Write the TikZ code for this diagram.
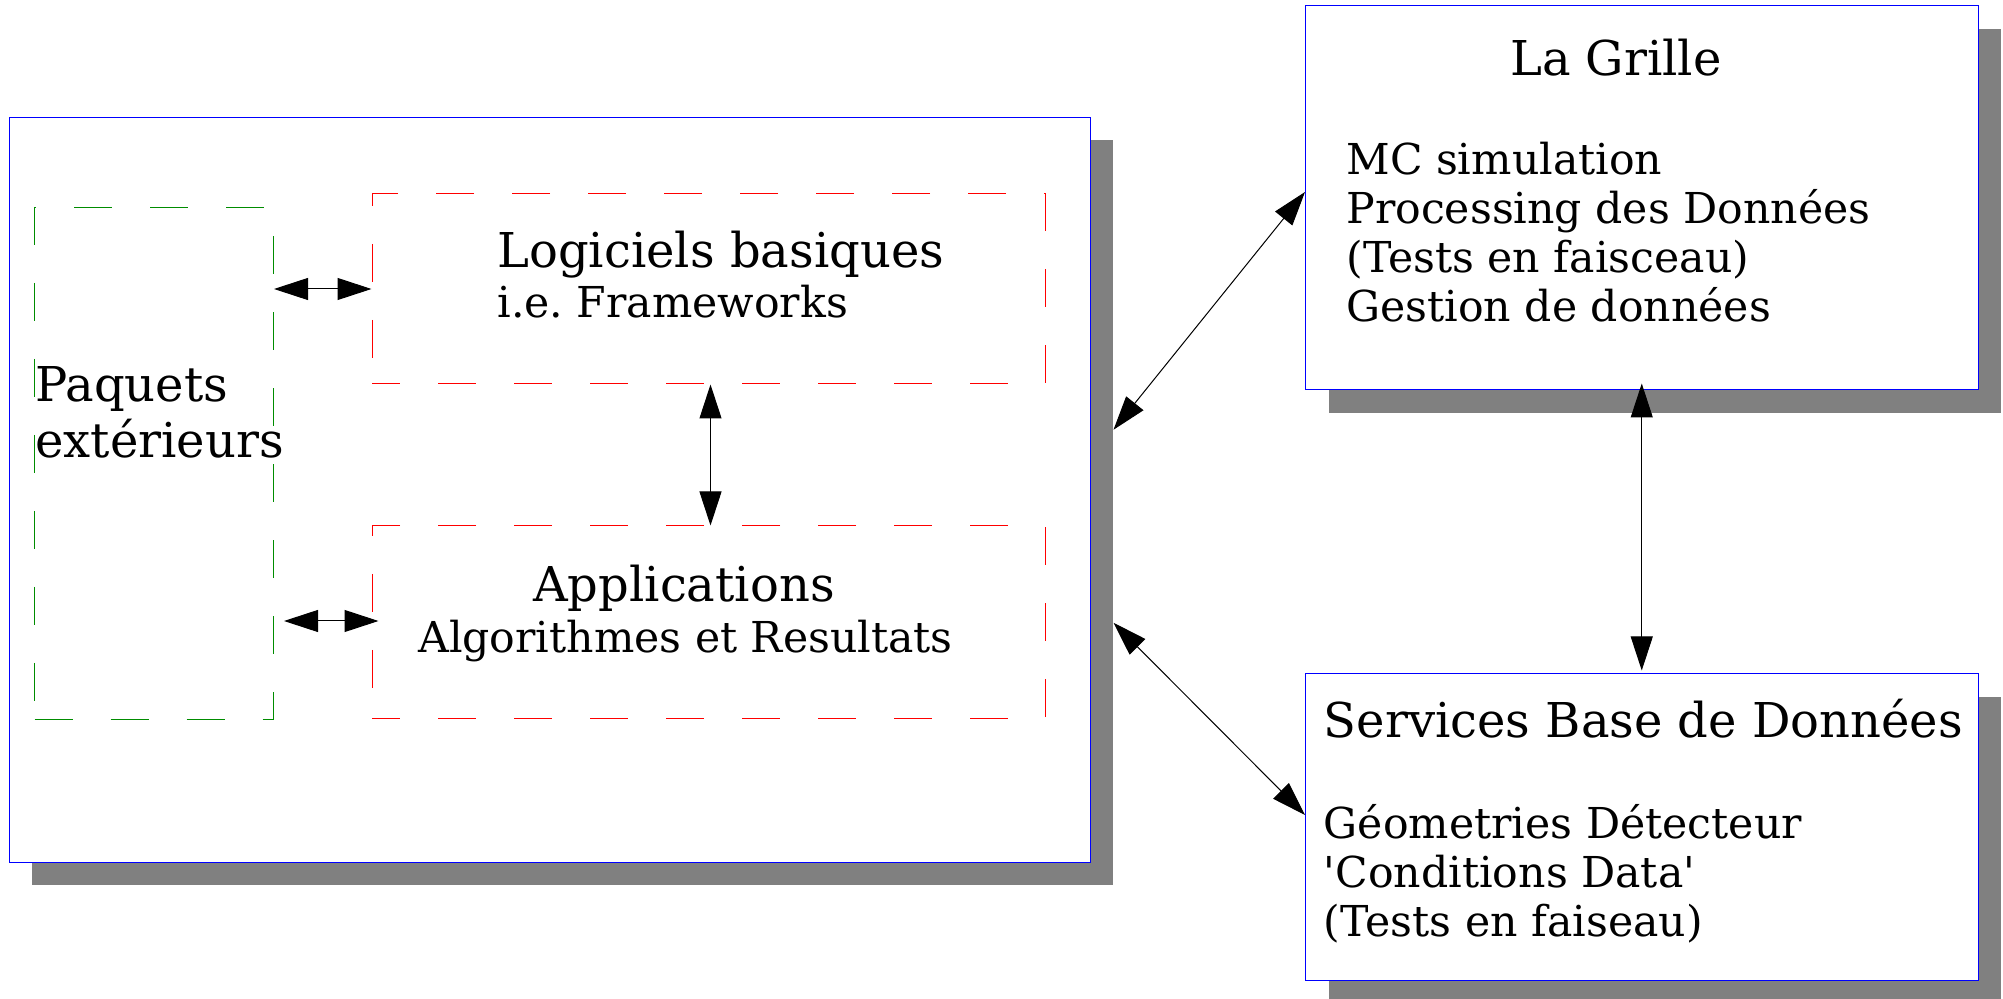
\documentclass[tikz,border=0pt]{standalone}
\usepackage{fontspec}
\setmainfont{DejaVu Serif}[Ligatures=TeXOff]
\usetikzlibrary{arrows.meta,calc,fit,shadows}
\definecolor{shade}{RGB}{128,128,128}
\definecolor{boxblue}{RGB}{0,0,255}
\definecolor{dgreen}{RGB}{0,140,0}
\frenchspacing
\begin{document}
\begin{tikzpicture}[x=0.5pt,y=-0.5pt,
  bigbox/.style={draw=boxblue, line width=0.5pt, fill=white, inner sep=0pt,
    drop shadow={opacity=1, fill=shade, shadow xshift=11.5pt, shadow yshift=-11.5pt}},
  dashbox/.style={line width=0.5pt, inner sep=0pt, dash pattern=on 19pt off 19pt},
  conn/.style={line width=0.5pt, {Triangle[length=17pt,width=11pt]}-{Triangle[length=17pt,width=11pt]}},
  title/.style={inner sep=0pt, font=\fontsize{24}{28}\selectfont},
  body/.style={inner sep=0pt, anchor=base west, font=\fontsize{21.3}{24.5}\selectfont},
]
\useasboundingbox (0,0) rectangle (2003,999);
% boxes
\node[bigbox, fit={(9,117.5) (1090,862)}] (main) {};
\node[bigbox, fit={(1305.5,6) (1978,390)}] (grille) {};
\node[bigbox, fit={(1305.5,674) (1978,980)}] (services) {};
% dashed inner boxes
\node[dashbox, draw=dgreen, dash phase=0pt, fit={(34.5,208) (273.5,719)}] (ext) {};
\node[dashbox, draw=red, dash phase=5pt, fit={(372,194) (1045,384)}] (log) {};
\node[dashbox, draw=red, dash phase=5pt, fit={(372,526) (1045,718)}] (app) {};
% texts
\node[title, anchor=base west] (logt) at (497,268) {Logiciels basiques};
\node[body] (logs) at (497,318) {i.e. Frameworks};
\node[title, anchor=base west] (ext1) at (35,401.5) {Paquets};
\node[title, anchor=base west] (ext2) at (35,457.5) {extérieurs};
\node[title, anchor=base] (appt) at (684,601.5) {Applications};
\node[body, anchor=base] (apps) at (685.5,653) {Algorithmes et Resultats};
\node[title, anchor=base] (grt) at (1616,76) {La Grille};
\node[body] (gr1) at (1346,175) {MC simulation};
\node[body] (gr2) at (1346,224) {Processing des Données};
\node[body] (gr3) at (1346,273) {(Tests en faisceau)};
\node[body] (gr4) at (1346,322) {Gestion de données};
\node[title, anchor=base west] (sbt) at (1323.5,738) {Services Base de Données};
\node[body] (sb1) at (1323.5,838) {Géometries Détecteur};
\node[body] (sb2) at (1323.5,887) {'Conditions Data'};
\node[body] (sb3) at (1323.5,936.5) {(Tests en faiseau)};
% connectors
\draw[conn] (ext.east |- log.west) -- (log.west);
\draw[conn] ($(ext.east |- app.west)+(10,-1)$) -- ($(app.west)+(7,-1)$);
\draw[conn] ($(log.south)+(2,0)$) -- ($(app.north)+(2,0)$);
\draw[conn] ($(main.east)+(23,-60)$) -- ($(grille.west)+(0,-6)$);
\draw[conn] ($(main.east)+(23,133)$) -- ($(services.west)+(0,-12)$);
\draw[conn] ($(grille.south)+(0,-7)$) -- ($(services.north)+(0,-3)$);
\end{tikzpicture}
\end{document}
